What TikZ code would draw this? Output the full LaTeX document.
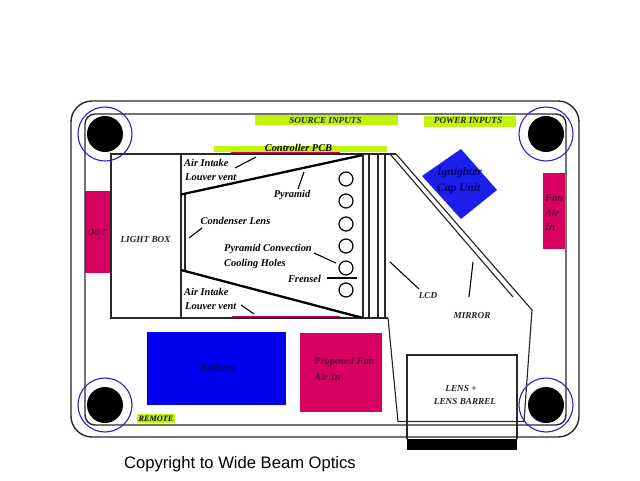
\documentclass[tikz,border=0pt]{standalone}
\usepackage{fontspec}
\setmainfont{Liberation Serif}
\newfontfamily\copyfont{Liberation Sans}
\definecolor{lime}{RGB}{190,245,10}
\definecolor{rosered}{RGB}{216,0,96}
\definecolor{ballastblue}{RGB}{0,0,240}
\definecolor{capblue}{RGB}{30,30,235}
\definecolor{ringblue}{RGB}{50,30,190}
\definecolor{edge}{RGB}{40,40,40}
\definecolor{navy}{RGB}{0,0,110}
\definecolor{maroon}{RGB}{90,0,50}
\tikzset{
 lbl/.style={inner sep=0pt,font=\fontsize{10.4}{12}\selectfont\itshape\bfseries,text=black},
 lblw/.style={lbl,anchor=west},
 smalllbl/.style={inner sep=0pt,font=\fontsize{9.2}{10}\selectfont\itshape\bfseries,text=black!85},
 ln/.style={draw=edge,line width=1.15pt},
 leader/.style={draw=black,line width=1.1pt},
 hole/.style={draw=black,line width=1.2pt,fill=white,circle,minimum size=14pt,inner sep=0pt},
 post/.style={fill=black,circle,minimum size=36pt,inner sep=0pt},
 ring/.style={draw=ringblue,line width=1.1pt,circle,minimum size=54pt,inner sep=0pt},
}
\begin{document}
\begin{tikzpicture}[x=1pt,y=-1pt]
\useasboundingbox[fill=white] (0,0) rectangle (640,480);
% fills
\fill[lime] (255,115) rectangle (398,125);
\fill[lime] (424,116) rectangle (516,127);
\fill[lime] (214,146) rectangle (387,152);
\fill[rosered] (231,152) rectangle (340,154.5);
\fill[rosered] (232,316) rectangle (340,318);
\fill[rosered] (85,191) rectangle (111,273);
\fill[rosered] (543,173) rectangle (565,249);
\fill[rosered] (300,333) rectangle (382,412);
\fill[ballastblue] (147,332) rectangle (286,405);
\fill[capblue] (422,176) -- (461,149) -- (497,190) -- (461,219) -- cycle;
\fill[lime] (137,414) rectangle (175,423);
% housing
\draw[ln,line width=1.4pt] (71,122) arc[start angle=180,end angle=270,radius=21] -- (558,101) arc[start angle=270,end angle=360,radius=21] -- (579,416) arc[start angle=0,end angle=90,radius=21] -- (92,437) arc[start angle=90,end angle=180,radius=21] -- cycle;
\draw[ln,line width=1.4pt] (85,124) arc[start angle=180,end angle=270,radius=10] -- (556,114) arc[start angle=270,end angle=360,radius=10] -- (566,415) arc[start angle=0,end angle=90,radius=10] -- (95,425) arc[start angle=90,end angle=180,radius=10] -- cycle;
% light box and pyramid
\draw[ln] (396,154) -- (111,154) -- (111,318) -- (388,318);
\draw[ln] (181,154) -- (181,318);
\draw[ln] (185,193) -- (185,270);
\draw[black,line width=2.3pt] (181,194.5) -- (363,155);
\draw[black,line width=2.3pt] (181,270) -- (363,318);
\draw[ln] (363,154) -- (363,318);
\draw[ln] (369,154) -- (369,318);
\draw[ln] (378,154) -- (378,318);
\draw[ln] (385,154) -- (385,318);
% holes
\node[hole] (h1) at (346,179) {};
\node[hole] (h2) at (346,201) {};
\node[hole] (h3) at (346,224) {};
\node[hole] (h4) at (346,246) {};
\node[hole] (h5) at (346,268) {};
\node[hole] (h6) at (346,290) {};
% mirror and light path
\draw[ln] (390,154) -- (513,297);
\draw[ln] (396,154) -- (532,310) -- (524,421.5) -- (398,421.5) -- (388,318);
% lens
\draw[ln] (407,439) -- (407,355) -- (517,355) -- (517,439);
\fill[black] (407,439) rectangle (517,450);
% posts
\foreach \n/\x/\y in {tl/105/134,tr/546/134,bl/105/405,br/546/405}{
 \node[post] (p\n) at (\x,\y) {};
 \node[ring] (r\n) at (\x,\y) {};
}
% leaders
\draw[leader] (235,168) -- (256,157);
\draw[leader] (304,172) -- (298,189);
\draw[leader] (202,228) -- (189,238);
\draw[leader] (314,253) -- (336,263);
\draw[leader] (327,278) -- (357,278);
\draw[leader] (241,305) -- (254,314);
\draw[leader] (390,262) -- (419,289);
\draw[leader] (473,262) -- (469,297);
% labels
\node[smalllbl] (src) at (325.5,120) {SOURCE INPUTS};
\node[smalllbl] (pow) at (468,121) {POWER INPUTS};
\node[lbl] (ctl) at (298.5,148) {Controller PCB};
\node[lblw] (a1) at (184,163) {Air Intake};
\node[lblw] (a2) at (185,177) {Louver vent};
\node[lbl] (pyr) at (292,195) {Pyramid};
\node[lbl] (con) at (235.5,221) {Condenser Lens};
\node[lblw] (pc1) at (224,249) {Pyramid Convection};
\node[lblw] (pc2) at (224,264) {Cooling Holes};
\node[lbl] (fre) at (304.5,279) {Frensel};
\node[lblw] (b1) at (184,292) {Air Intake};
\node[lblw] (b2) at (185,306) {Louver vent};
\node[smalllbl] (lb) at (145.5,239) {LIGHT BOX};
\node[smalllbl,text=maroon] (out) at (97,232) {OUT};
\node[lblw,text=maroon] (f1) at (545,198) {Fan};
\node[lblw,text=maroon] (f2) at (545,213) {Air};
\node[lblw,text=maroon] (f3) at (545,227) {In};
\node[lblw,text=navy,font=\fontsize{11.5}{13}\selectfont\itshape\bfseries] (ig) at (437,173) {Ignighter};
\node[lblw,text=navy,font=\fontsize{11.5}{13}\selectfont\itshape\bfseries] (cap) at (437,189) {Cap Unit};
\node[smalllbl] (lcd) at (428,295) {LCD};
\node[smalllbl] (mir) at (472,315) {MIRROR};
\node[lbl,text=navy,font=\fontsize{12.5}{13}\selectfont\itshape\bfseries] (bal) at (217.5,368) {Ballast};
\node[lblw,text=maroon] (pf1) at (314,362) {Proposed Fan};
\node[lblw,text=maroon] (pf2) at (314,377) {Air In};
\node[smalllbl,text=black,font=\fontsize{8.2}{10}\selectfont\itshape\bfseries] (rem) at (156,418.5) {REMOTE};
\node[smalllbl] (ln1) at (461,388) {LENS +};
\node[smalllbl] (ln2) at (465,401) {LENS BARREL};
\node[inner sep=0pt,anchor=west,font=\fontsize{16.6}{18}\copyfont] (copy) at (124,464) {Copyright to Wide Beam Optics};
\end{tikzpicture}
\end{document}
